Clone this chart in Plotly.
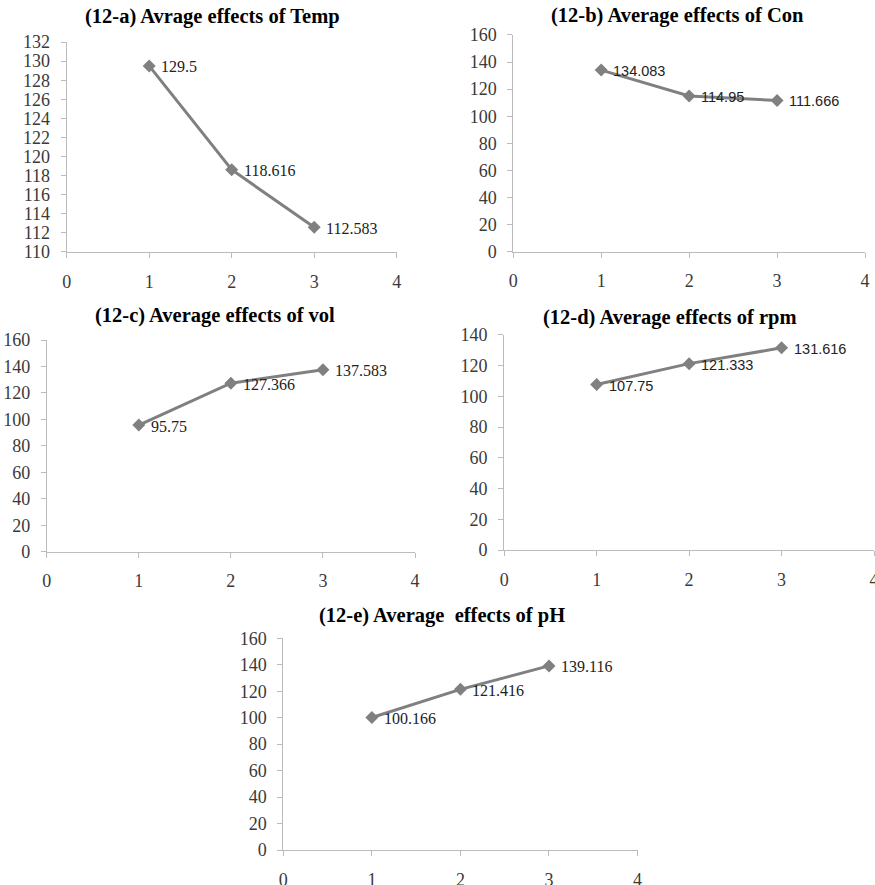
import plotly.graph_objects as go

# Factor levels (x) and average effect at each level
levels = [1, 2, 3]

temp_vals = [129.5, 118.616, 112.583]
con_vals = [134.083, 114.95, 111.666]
vol_vals = [95.75, 127.366, 137.583]
rpm_vals = [107.75, 121.333, 131.616]
ph_vals = [100.166, 121.416, 139.116]

titles = [
    "(12-a) Avrage effects of Temp",
    "(12-b) Average effects of Con",
    "(12-c) Average effects of vol",
    "(12-d) Average effects of rpm",
    "(12-e) Average  effects of pH",
]

x_ticks = [0, 1, 2, 3, 4]

# panel layout: (values, x-domain, y-domain, y-range, y-dtick, label font, label size, title pos)
panels = [
    (temp_vals, [0.0762, 0.4534], [0.7153, 0.9525], [110, 132], 2, "Liberation Serif", 16, (0.243, 0.981)),
    (con_vals, [0.5866, 0.9886], [0.7156, 0.9605], [0, 160], 20, "Liberation Sans", 14.5, (0.774, 0.983)),
    (vol_vals, [0.0534, 0.4743], [0.3766, 0.6158], [0, 160], 20, "Liberation Serif", 16, (0.246, 0.643)),
    (rpm_vals, [0.5762, 0.9989], [0.3785, 0.6215], [0, 140], 20, "Liberation Sans", 14.5, (0.766, 0.641)),
    (ph_vals, [0.3238, 0.7286], [0.0395, 0.2788], [0, 160], 20, "Liberation Serif", 16, (0.505, 0.305)),
]

LINE = "#808080"
AXIS = "#bcbcbc"
TICKTXT = "#3a3a3a"

fig = go.Figure()
annotations = []
axes = {}

for i, (vals, xd, yd, yr, dt, lfont, lsize, tpos) in enumerate(panels):
    n = "" if i == 0 else str(i + 1)
    xa, ya = "x" + n, "y" + n
    fig.add_trace(go.Scatter(
        x=levels, y=vals, mode="lines+markers",
        line=dict(color=LINE, width=3),
        marker=dict(symbol="diamond", size=10, color=LINE),
        xaxis=xa, yaxis=ya, showlegend=False, hoverinfo="x+y",
    ))
    common = dict(
        showgrid=False, zeroline=False, showline=True, linecolor=AXIS, linewidth=1,
        ticks="outside", ticklen=5, tickcolor=AXIS, automargin=False,
        ticklabeloverflow="allow",
        tickfont=dict(family="Liberation Serif", size=18, color=TICKTXT),
    )
    axes["xaxis" + n] = dict(
        domain=xd, range=[0, 4], tickmode="array", tickvals=x_ticks, anchor=ya,
        ticklabelstandoff=8, **common)
    axes["yaxis" + n] = dict(
        domain=yd, range=yr, tickmode="linear", dtick=dt, tick0=yr[0], anchor=xa,
        ticklabelstandoff=7, **common)
    for xv, yv in zip(levels, vals):
        annotations.append(dict(
            x=xv, y=yv, xref=xa, yref=ya, text=f"{yv:g}", showarrow=False,
            xanchor="left", yanchor="middle", xshift=10, yshift=-1,
            font=dict(family=lfont, size=lsize, color="#222222"),
        ))
    annotations.append(dict(
        x=tpos[0], y=tpos[1], xref="paper", yref="paper", text="<b>" + titles[i] + "</b>",
        showarrow=False, xanchor="center", yanchor="middle",
        font=dict(family="Liberation Serif", size=20.5, color="#000000"),
    ))

fig.update_layout(
    width=875, height=885,
    margin=dict(l=0, r=0, t=0, b=0),
    font=dict(family="Liberation Serif", size=18, color=TICKTXT),
    paper_bgcolor="white", plot_bgcolor="white",
    annotations=annotations,
    **axes,
)

fig.write_html("out.html")
